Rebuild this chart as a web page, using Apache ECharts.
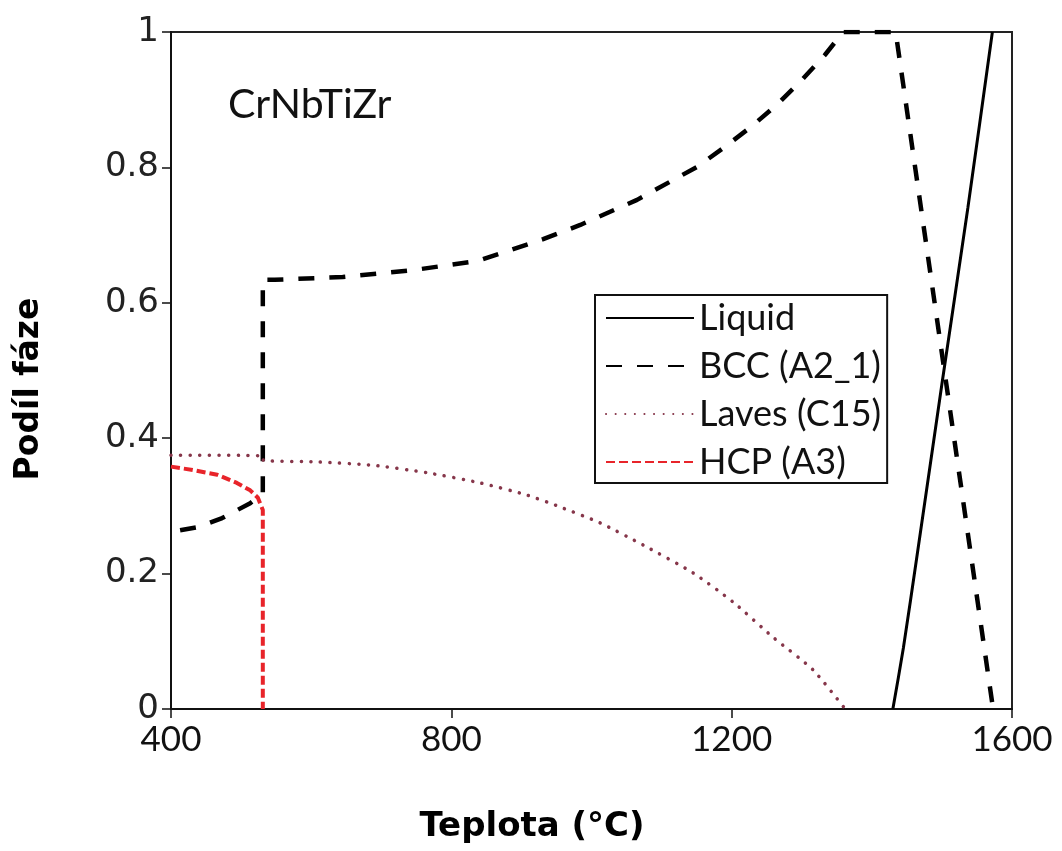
<!DOCTYPE html>
<html>
<head>
<meta charset="utf-8">
<script src="https://cdn.jsdelivr.net/npm/echarts@6/dist/echarts.min.js"></script>
<style>
html,body{margin:0;padding:0;background:#fff;}
#chart{width:1062px;height:851px;}
</style>
</head>
<body>
<div id="chart"></div>
<script>
// ---- data (temperature °C, phase fraction) ----
const seriesNames = ['Liquid', 'BCC (A2_1)', 'Laves (C15)', 'HCP (A3)'];
const xTicks = [400, 800, 1200, 1600];
const yTicks = [0, 0.2, 0.4, 0.6, 0.8, 1];

const liquidT = [1430, 1445, 1465, 1500, 1537, 1572];
const liquidF = [0, 0.09, 0.23, 0.48, 0.74, 1.0];

const bccT = [413, 440, 473, 513, 523, 531, 531, 548, 645, 744, 838, 931, 984, 1065, 1151, 1190, 1229, 1266, 1300, 1333, 1359, 1434, 1573];
const bccF = [0.264, 0.269, 0.282, 0.304, 0.312, 0.318, 0.634, 0.634, 0.638, 0.648, 0.662, 0.694, 0.715, 0.752, 0.801, 0.830, 0.861, 0.894, 0.929, 0.966, 1.0, 1.0, 0];

const lavesT = [400, 531, 532, 608, 688, 765, 841, 908, 959, 1012, 1074, 1145, 1202, 1259, 1316, 1362];
const lavesF = [0.375, 0.374, 0.367, 0.365, 0.360, 0.349, 0.334, 0.316, 0.297, 0.275, 0.242, 0.201, 0.158, 0.106, 0.058, 0];

const hcpT = [400, 431, 466, 494, 513, 524, 531, 531];
const hcpF = [0.358, 0.353, 0.346, 0.334, 0.323, 0.312, 0.294, 0];

const alloyLabel = 'CrNbTiZr';
const xTitle = 'Teplota (°C)';
const yTitle = 'Podíl fáze';

function pairs(t, f) { return t.map((v, i) => [v, f[i]]); }

const chart = echarts.init(document.getElementById('chart'), null, {renderer: 'canvas'});
const option = {
  animation: false,
  backgroundColor: '#fff',
  grid: {left: 171, top: 32, width: 841, height: 677, show: true, borderColor: '#222', borderWidth: 2, backgroundColor: 'transparent'},
  xAxis: {
    type: 'value', min: xTicks[0], max: xTicks[xTicks.length - 1], interval: 400,
    axisLine: {show: true, onZero: false, lineStyle: {color: '#111', width: 2}},
    axisTick: {show: true, inside: false, length: 9, lineStyle: {color: '#111', width: 1.5}},
    splitLine: {show: false},
    axisLabel: {color: '#111', fontFamily: 'Lato', fontSize: 35, margin: 13, formatter: v => String(v)}
  },
  yAxis: {
    type: 'value', min: yTicks[0], max: yTicks[yTicks.length - 1], interval: 0.2,
    axisLine: {show: true, onZero: false, lineStyle: {color: '#111', width: 2}},
    axisTick: {show: true, inside: false, length: 9, lineStyle: {color: '#111', width: 1.5}},
    splitLine: {show: false},
    axisLabel: {color: '#222', fontFamily: 'DejaVu Sans', fontSize: 34, margin: 12, formatter: v => String(Math.round(v * 10) / 10)}
  },
  legend: {
    orient: 'vertical', left: 595, top: 295,
    padding: [5, 6, 3, 10],
    itemWidth: 88, itemHeight: 34, itemGap: 12,
    borderColor: '#111', borderWidth: 2, backgroundColor: '#fff',
    itemStyle: {opacity: 0},
    textStyle: {fontFamily: 'Lato', fontSize: 36, color: '#111'},
    data: seriesNames
  },
  graphic: [
    {type: 'text', left: 228, top: 84, style: {text: alloyLabel, font: '41px Lato', fill: '#111'}},
    {type: 'text', x: 532, y: 827, style: {text: xTitle, font: 'bold 34px "DejaVu Sans"', fill: '#000', align: 'center', verticalAlign: 'middle', textAlign: 'center', textVerticalAlign: 'middle'}},
    {type: 'text', x: 29, y: 389, rotation: Math.PI / 2, style: {text: yTitle, font: 'bold 33px "DejaVu Sans"', fill: '#000', align: 'center', verticalAlign: 'middle', textAlign: 'center', textVerticalAlign: 'middle'}}
  ],
  series: [
    {name: seriesNames[0], type: 'line', data: pairs(liquidT, liquidF), showSymbol: false, symbol: 'none', smooth: 0.2,
     lineStyle: {color: '#000', width: 3, type: 'solid'}, itemStyle: {color: '#000'}},
    {name: seriesNames[1], type: 'line', data: pairs(bccT, bccF), showSymbol: false, symbol: 'none',
     lineStyle: {color: '#000', width: 4.5, type: [16, 15]}, itemStyle: {color: '#000'}},
    {name: seriesNames[2], type: 'line', data: pairs(lavesT, lavesF), showSymbol: false, symbol: 'none', smooth: 0.2,
     lineStyle: {color: '#86364a', width: 3.5, type: [0.1, 9.5], cap: 'round'}, itemStyle: {color: '#86364a'}},
    {name: seriesNames[3], type: 'line', data: pairs(hcpT, hcpF), showSymbol: false, symbol: 'none',
     lineStyle: {color: '#e8242a', width: 4, type: [9, 4]}, itemStyle: {color: '#e8242a'}}
  ]
};
chart.setOption(option);
</script>
</body>
</html>
